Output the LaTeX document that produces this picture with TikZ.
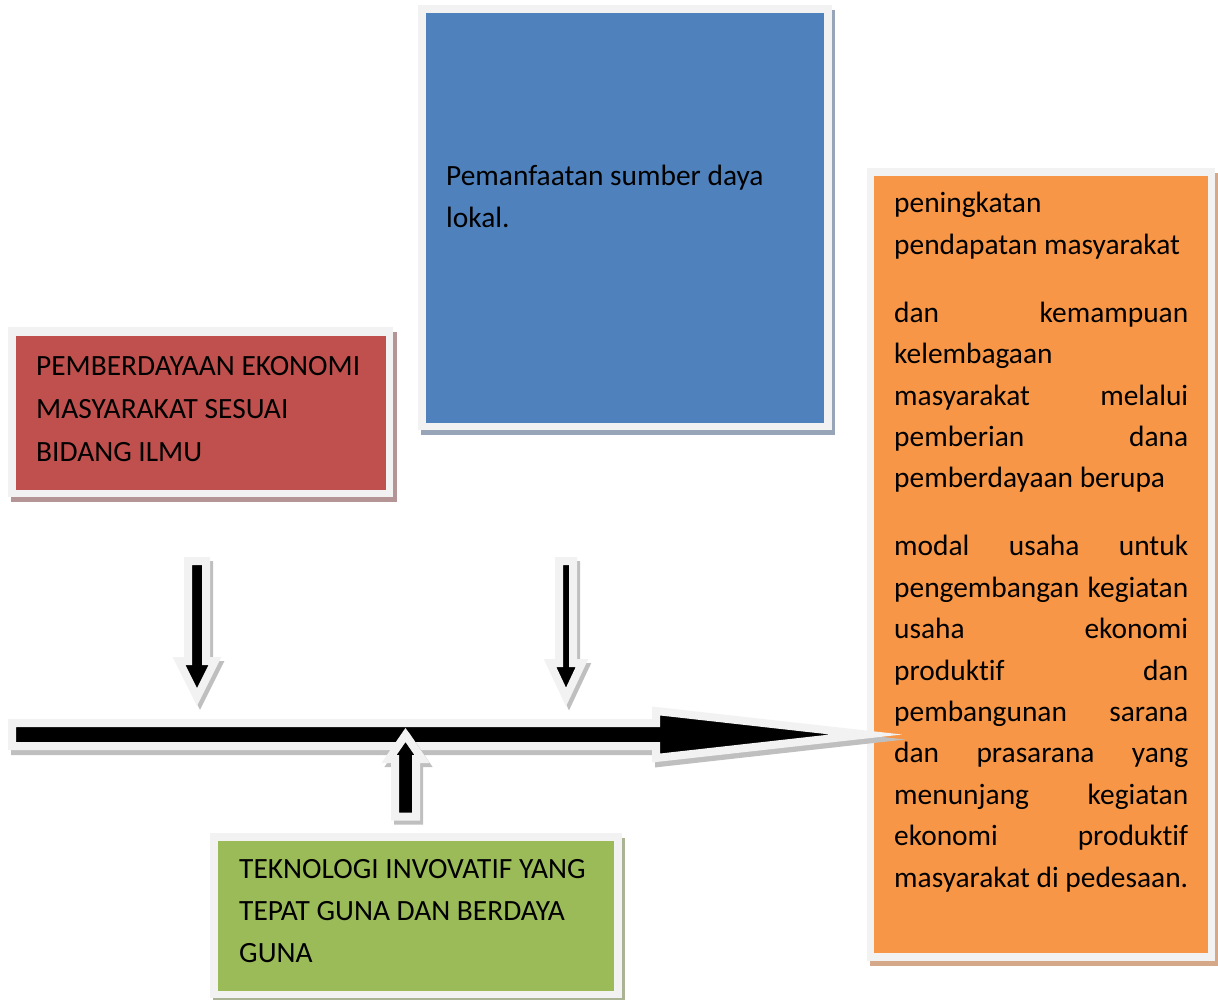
\documentclass[tikz,border=0pt]{standalone}
\usepackage{fontspec}
\setmainfont[Ligatures={NoCommon}]{Carlito}
\definecolor{framec}{HTML}{F2F2F2}
\definecolor{redc}{HTML}{C0504D}
\definecolor{bluec}{HTML}{4F81BD}
\definecolor{greenc}{HTML}{9BBB59}
\definecolor{orangec}{HTML}{F79646}
\definecolor{redsh}{HTML}{B49494}
\definecolor{bluesh}{HTML}{98A4B8}
\definecolor{greensh}{HTML}{AAB494}
\definecolor{orangesh}{HTML}{D4A888}
\definecolor{arrsh}{HTML}{BFBFBF}
\tikzset{
  box/.style={inner sep=0pt, outer sep=0pt, anchor=north west},
  boxtext/.style={inner sep=0pt, anchor=base west, font=\fontsize{29.4}{#1}\selectfont},
  blockarrow/.style={fill=black, draw=framec, line width=8pt, miter limit=20, line join=miter},
  arrowshadow/.style={fill=arrsh, draw=arrsh, line width=8pt, miter limit=20, line join=miter},
}
\begin{document}
\begin{tikzpicture}[x=1pt,y=-1pt]
\useasboundingbox (0,0) rectangle (1218,1000);

% ---- blue box
\fill[bluesh] (421,10) rectangle (835,435);
\fill[framec] (418,5) rectangle (832,430);
\node[box, fill=bluec, minimum width=398pt, minimum height=410pt] (blue) at (426,13) {};
\node[boxtext=42pt] (bluetext) at (446,186) {\parbox[t]{370pt}{Pemanfaatan sumber daya\\lokal.}};

% ---- red box
\fill[redsh] (11,332) rectangle (397,502);
\fill[framec] (8,327) rectangle (393,497);
\node[box, fill=redc, minimum width=370pt, minimum height=154pt] (red) at (16,336) {};
\node[boxtext=43pt] (redtext) at (36,375) {\parbox[t]{350pt}{PEMBERDAYAAN EKONOMI\\MASYARAKAT SESUAI\\BIDANG ILMU}};

% ---- green box
\fill[greensh] (213,838) rectangle (625,1002);
\fill[framec] (210,833) rectangle (622,998);
\node[box, fill=greenc, minimum width=396pt, minimum height=150pt] (green) at (218,841) {};
\node[boxtext=42pt] (greentext) at (239,878) {\parbox[t]{370pt}{TEKNOLOGI INVOVATIF YANG\\TEPAT GUNA DAN BERDAYA\\GUNA}};

% ---- orange box
\fill[orangesh] (870,173) rectangle (1218,966);
\fill[framec] (867,168) rectangle (1215,961);
\node[box, fill=orangec, minimum width=334pt, minimum height=777pt] (orange) at (874,176) {};
\node[boxtext=41.4pt] (orangetext) at (894,213) {\parbox[t]{294pt}{%
peningkatan\\
pendapatan masyarakat\\[26.6pt]
\makebox[294pt][s]{dan kemampuan}\\
kelembagaan\\
\makebox[294pt][s]{masyarakat melalui}\\
\makebox[294pt][s]{pemberian dana}\\
pemberdayaan berupa\\[26.6pt]
\makebox[294pt][s]{modal usaha untuk}\\
\makebox[294pt][s]{pengembangan kegiatan}\\
\makebox[294pt][s]{usaha ekonomi}\\
\makebox[294pt][s]{produktif dan}\\
\makebox[294pt][s]{pembangunan sarana}\\
\makebox[294pt][s]{dan prasarana yang}\\
\makebox[294pt][s]{menunjang kegiatan}\\
\makebox[294pt][s]{ekonomi produktif}\\
masyarakat di pedesaan.}};

% ---- horizontal block arrow
\path[arrowshadow, shift={(3,5)}] (12,723) -- (656,723) -- (656,711) -- (866,734.5) -- (656,758) -- (656,746) -- (12,746) -- cycle;
\path[blockarrow] (12,723) -- (656,723) -- (656,711) -- (866,734.5) -- (656,758) -- (656,746) -- (12,746) -- cycle;

% ---- left down arrow
\path[arrowshadow, shift={(3,4)}] (188,561) -- (206,561) -- (206,661) -- (215,661) -- (197,697) -- (179,661) -- (188,661) -- cycle;
\path[blockarrow] (188,561) -- (206,561) -- (206,661) -- (215,661) -- (197,697) -- (179,661) -- (188,661) -- cycle;

% ---- right down arrow
\path[arrowshadow, shift={(3,4)}] (559,561) -- (573,561) -- (573,663) -- (582,663) -- (566,697) -- (550,663) -- (559,663) -- cycle;
\path[blockarrow] (559,561) -- (573,561) -- (573,663) -- (582,663) -- (566,697) -- (550,663) -- (559,663) -- cycle;

% ---- up arrow
\path[arrowshadow, shift={(3,4)}] (395,816.5) -- (416,816.5) -- (416,759) -- (422,759) -- (405.5,735) -- (389,759) -- (395,759) -- cycle;
\path[blockarrow] (395,816.5) -- (416,816.5) -- (416,759) -- (422,759) -- (405.5,735) -- (389,759) -- (395,759) -- cycle;
\end{tikzpicture}
\end{document}
